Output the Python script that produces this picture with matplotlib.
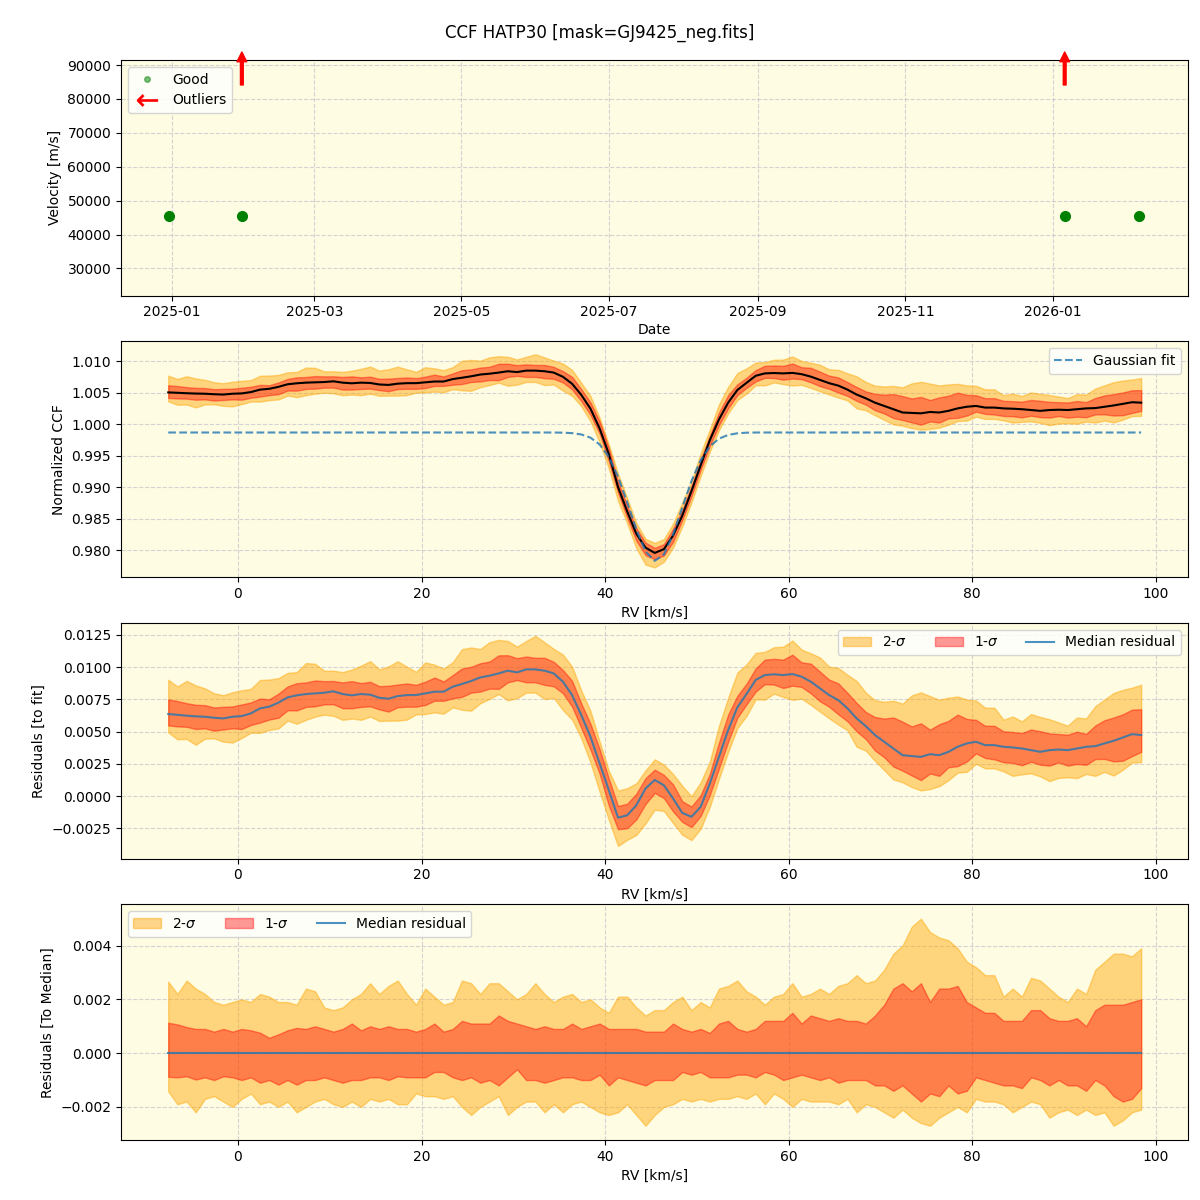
import numpy as np
import matplotlib
matplotlib.use('Agg')
import matplotlib.pyplot as plt
import matplotlib.dates as mdates
from matplotlib.lines import Line2D

# --- 観測日ごとの速度 (上段) ---
good_dates = np.array(['2024-12-31', '2025-01-30', '2026-01-06', '2026-02-06'], dtype='datetime64[D]')
good_vel = [45400, 45400, 45400, 45400]
outlier_dates = np.array(['2025-01-30', '2026-01-06'], dtype='datetime64[D]')

# --- RV グリッド (1 km/s 刻み) ---
rv = np.arange(-7.6, 98.5, 1.0)

# Gaussian fit
gauss_fit = np.array([0.9987] * 43 + [
    0.99867, 0.9986, 0.99839, 0.99788, 0.9968, 0.99482, 0.99172, 0.98765, 0.9833, 0.97981,
    0.97831, 0.97932, 0.9825, 0.98677, 0.99097, 0.99429, 0.99648, 0.99772, 0.99832, 0.99857,
    0.99867] + [0.9987] * 43)

# median residual to fit
resid_med = np.array([
    0.00637, 0.00631, 0.00624, 0.00619, 0.00616, 0.00608, 0.00603, 0.00616, 0.00621, 0.00642,
    0.00681, 0.00694, 0.00725, 0.00766, 0.00782, 0.00792, 0.00797, 0.00802, 0.00813, 0.00792,
    0.00782, 0.00792, 0.00787, 0.00763, 0.00756, 0.00776, 0.00784, 0.00784, 0.00797, 0.00810,
    0.00810, 0.00849, 0.00870, 0.00893, 0.00921, 0.00934, 0.00952, 0.00973, 0.00960, 0.00983,
    0.00983, 0.00973, 0.00952, 0.00888, 0.00784, 0.00629, 0.00461, 0.00254, 0.00047, -0.00166,
    -0.00148, -0.00070, 0.00060, 0.00126,
    0.00085, -0.00018, -0.00129, -0.00160, -0.00083, 0.00098, 0.00305, 0.00512, 0.00688, 0.00792,
    0.00901, 0.00939, 0.00945, 0.00939, 0.00947, 0.00927, 0.00888, 0.00836, 0.00784, 0.00745,
    0.00681, 0.00603, 0.00543, 0.00474, 0.00422, 0.00370, 0.00318, 0.00311, 0.00305, 0.00326,
    0.00318, 0.00344, 0.00383, 0.00409, 0.00422, 0.00396, 0.00396, 0.00383, 0.00378, 0.00370,
    0.00357, 0.00344, 0.00357, 0.00362, 0.00357, 0.00370, 0.00383, 0.00388, 0.00409, 0.00430,
    0.00455, 0.00481, 0.00474])

# percentile offsets around the median
hi2 = np.array([
    0.00266, 0.0022, 0.0027, 0.0024, 0.0022, 0.0019, 0.0018, 0.0019, 0.0020, 0.0019,
    0.0022, 0.0021, 0.0019, 0.0019, 0.0018, 0.0024, 0.0023, 0.0017, 0.0016, 0.0017,
    0.0020, 0.0022, 0.0026, 0.0022, 0.0025, 0.0027, 0.0022, 0.0018, 0.0024, 0.0021,
    0.0018, 0.0019, 0.0027, 0.0026, 0.0022, 0.0026, 0.0026, 0.0023, 0.0020, 0.0022,
    0.0026, 0.0022, 0.0019, 0.0021, 0.0022, 0.0019, 0.0020, 0.0017, 0.0015, 0.0021,
    0.0021, 0.0017, 0.0014, 0.0016, 0.0016, 0.0019, 0.0021, 0.0016, 0.0019, 0.0017,
    0.0024, 0.0025, 0.0027, 0.0023, 0.0021, 0.0018, 0.0021, 0.0022, 0.0026, 0.0021,
    0.0022, 0.0024, 0.0022, 0.0025, 0.0026, 0.0029, 0.0026, 0.0027, 0.0031, 0.0037,
    0.0040, 0.0047, 0.0050, 0.0045, 0.0043, 0.0042, 0.0039, 0.0034, 0.0032, 0.0029,
    0.0029, 0.0021, 0.0024, 0.0021, 0.0028, 0.0027, 0.0024, 0.0021, 0.0019, 0.0024,
    0.0022, 0.0031, 0.0034, 0.0037, 0.0037, 0.0036, 0.0039])
hi1 = np.array([
    0.00113, 0.00107, 0.00097, 0.0009, 0.0009, 0.0008, 0.0009, 0.0008, 0.0009, 0.00085,
    0.00076, 0.00057, 0.0007, 0.00085, 0.00094, 0.0009, 0.0010, 0.0009, 0.0008, 0.0009,
    0.0011, 0.00085, 0.0010, 0.0009, 0.0010, 0.0009, 0.0009, 0.0008, 0.0009, 0.0011,
    0.0008, 0.0009, 0.0012, 0.0011, 0.0011, 0.0011, 0.0014, 0.0012, 0.0011, 0.0010,
    0.0009, 0.0010, 0.0009, 0.0009, 0.0011, 0.0009, 0.0010, 0.0011, 0.0009, 0.0009,
    0.0009, 0.0009, 0.0008, 0.0008, 0.0008, 0.0011, 0.0009, 0.0008, 0.0009, 0.00075,
    0.0011, 0.0012, 0.0009, 0.0008, 0.0009, 0.0012, 0.0012, 0.0012, 0.0015, 0.0011,
    0.0014, 0.0013, 0.0012, 0.0013, 0.0012, 0.0012, 0.0011, 0.0014, 0.0018, 0.0024,
    0.0026, 0.0023, 0.0026, 0.0019, 0.0024, 0.0024, 0.0025, 0.0019, 0.0017, 0.0015,
    0.0015, 0.0012, 0.0012, 0.0012, 0.0016, 0.0016, 0.0013, 0.0012, 0.0012, 0.0013,
    0.0010, 0.0016, 0.0018, 0.0018, 0.0018, 0.0019, 0.0020])
lo1 = np.array([
    -0.00088, -0.0009, -0.00086, -0.00098, -0.0009, -0.0010, -0.00086, -0.0009, -0.0010, -0.0009,
    -0.0011, -0.0010, -0.00117, -0.0010, -0.00117, -0.0010, -0.0010, -0.0009, -0.0010, -0.0011,
    -0.0010, -0.0010, -0.0009, -0.0009, -0.0010, -0.00086, -0.0009, -0.0009, -0.0009, -0.0007,
    -0.0007, -0.0009, -0.0010, -0.0009, -0.0011, -0.0010, -0.0012, -0.0009, -0.0006, -0.0010,
    -0.0010, -0.0011, -0.0010, -0.0009, -0.0009, -0.0010, -0.0010, -0.0008, -0.0012, -0.0009,
    -0.0010, -0.0011, -0.0012, -0.0010, -0.0010, -0.0010, -0.0007, -0.0008, -0.0007, -0.0009,
    -0.0009, -0.0009, -0.0008, -0.0008, -0.0009, -0.0007, -0.0008, -0.0010, -0.0009, -0.0008,
    -0.0009, -0.0010, -0.0009, -0.0011, -0.0010, -0.0010, -0.0010, -0.0012, -0.0012, -0.0014,
    -0.0012, -0.0015, -0.0018, -0.0015, -0.0016, -0.0012, -0.0015, -0.0014, -0.0009, -0.0010,
    -0.0011, -0.0012, -0.0012, -0.0013, -0.0009, -0.0010, -0.0012, -0.0010, -0.0012, -0.0012,
    -0.0014, -0.0010, -0.0012, -0.0016, -0.0018, -0.0017, -0.0013])
lo2 = np.array([
    -0.00142, -0.0019, -0.0018, -0.0022, -0.0017, -0.0016, -0.0018, -0.0020, -0.0017, -0.0015,
    -0.0019, -0.0018, -0.0020, -0.0018, -0.0022, -0.0020, -0.0018, -0.0017, -0.0019, -0.0020,
    -0.0018, -0.0020, -0.0017, -0.0018, -0.0017, -0.0019, -0.0019, -0.0015, -0.0016, -0.0016,
    -0.0017, -0.0016, -0.0020, -0.0023, -0.0020, -0.0018, -0.0016, -0.0023, -0.0020, -0.0018,
    -0.0018, -0.0022, -0.0019, -0.0022, -0.0019, -0.0018, -0.0020, -0.0022, -0.0023, -0.0022,
    -0.0019, -0.0023, -0.0027, -0.0023, -0.0020, -0.0019, -0.0017, -0.0018, -0.0017, -0.0018,
    -0.0017, -0.0017, -0.0016, -0.0017, -0.0015, -0.0019, -0.0015, -0.0017, -0.0020, -0.0017,
    -0.0018, -0.0018, -0.0018, -0.0019, -0.0017, -0.0022, -0.0019, -0.0020, -0.0022, -0.0024,
    -0.0021, -0.0024, -0.0026, -0.0027, -0.0024, -0.0022, -0.0020, -0.0022, -0.0017, -0.0018,
    -0.0018, -0.0019, -0.0022, -0.0020, -0.0018, -0.0019, -0.0024, -0.0022, -0.0021, -0.0023,
    -0.0021, -0.0023, -0.0022, -0.0027, -0.0025, -0.0022, -0.0021])

ccf_med = gauss_fit + resid_med

bg = '#fefce2'
c2 = 'orange'
c1 = 'red'
a2, a1 = 0.45, 0.4

fig, axes = plt.subplots(4, 1, figsize=(12, 12))
plt.subplots_adjust(left=0.1008, right=0.99, top=0.95, bottom=0.05, hspace=0.195)
fig.suptitle('CCF HATP30 [mask=GJ9425_neg.fits]', fontsize=12, y=0.98)

for ax in axes:
    ax.set_facecolor(bg)
    ax.grid(True, ls='--', color='#b8b8c8', alpha=0.6)
    ax.set_axisbelow(True)

# 1. 速度の時系列
ax = axes[0]
ax.plot(good_dates, good_vel, 'o', color='green', ms=7, ls='none')
for d in outlier_dates:
    ax.annotate('', xy=(d, 1.034), xycoords=('data', 'axes fraction'),
                xytext=(d, 0.894), textcoords=('data', 'axes fraction'),
                arrowprops=dict(facecolor='red', edgecolor='red', width=2, headwidth=7, headlength=7),
                annotation_clip=False)
ax.set_ylim(22000, 91500)
ax.set_ylabel('Velocity [m/s]')
ax.set_xlabel('Date', labelpad=3)
ax.xaxis.set_major_locator(mdates.MonthLocator(bymonth=[1, 3, 5, 7, 9, 11]))
ax.xaxis.set_major_formatter(mdates.DateFormatter('%Y-%m'))
h_good = Line2D([], [], marker='o', color='green', alpha=0.5, ms=4, ls='none')
h_out = Line2D([], [], marker=r'$\leftarrow$', color='red', ms=15, mew=0.3, ls='none')
ax.legend([h_good, h_out], ['Good', 'Outliers'], loc='upper left')

# 2. 規格化 CCF
ax = axes[1]
ax.fill_between(rv, ccf_med + lo2, ccf_med + hi2, color=c2, alpha=a2)
ax.fill_between(rv, ccf_med + lo1, ccf_med + hi1, color=c1, alpha=a1)
ax.plot(rv, ccf_med, color='black', lw=1.5)
ax.plot(rv, gauss_fit, '--', color='C0', alpha=0.8, lw=1.5, label='Gaussian fit')
ax.set_ylim(0.97574, 1.01316)
ax.set_ylabel('Normalized CCF')
ax.set_xlabel('RV [km/s]')
ax.legend(loc='upper right')

# 3. フィットからの残差
ax = axes[2]
ax.fill_between(rv, resid_med + lo2, resid_med + hi2, color=c2, alpha=a2, label=r'2-$\sigma$')
ax.fill_between(rv, resid_med + lo1, resid_med + hi1, color=c1, alpha=a1, label=r'1-$\sigma$')
ax.plot(rv, resid_med, color='C0', alpha=0.8, lw=1.5, label='Median residual')
ax.set_ylim(-0.00483, 0.01343)
ax.set_ylabel('Residuals [to fit]')
ax.set_xlabel('RV [km/s]')
ax.legend(loc='upper right', ncol=3)

# 4. メディアンからの残差
ax = axes[3]
ax.fill_between(rv, lo2, hi2, color=c2, alpha=a2, label=r'2-$\sigma$')
ax.fill_between(rv, lo1, hi1, color=c1, alpha=a1, label=r'1-$\sigma$')
ax.plot(rv, np.zeros_like(rv), color='C0', alpha=0.8, lw=1.5, label='Median residual')
ax.set_ylim(-0.00323, 0.00553)
ax.set_ylabel('Residuals [To Median]')
ax.set_xlabel('RV [km/s]')
ax.legend(loc='upper left', ncol=3)

for ax in axes[1:]:
    ax.set_xlim(-12.75, 103.5)

plt.savefig('out.png', dpi=100)
